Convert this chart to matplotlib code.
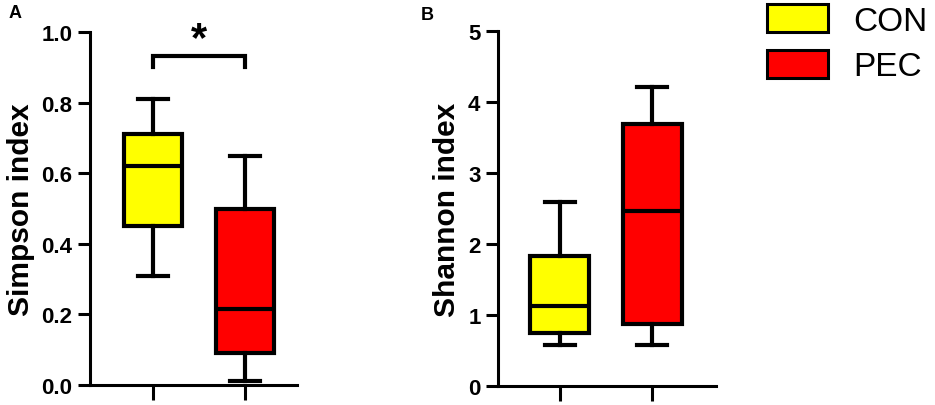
import matplotlib
matplotlib.use("Agg")
import matplotlib.pyplot as plt
from matplotlib.patches import Patch

plt.rcParams['font.family'] = ['Liberation Sans', 'DejaVu Sans']

groups = ['CON', 'PEC']
colors = ['#ffff00', '#ff0000']

# box stats: low whisker, Q1, median, Q3, high whisker
simpson_lo = [0.31, 0.01]
simpson_q1 = [0.45, 0.09]
simpson_med = [0.62, 0.215]
simpson_q3 = [0.71, 0.50]
simpson_hi = [0.81, 0.65]

shannon_lo = [0.58, 0.57]
shannon_q1 = [0.75, 0.87]
shannon_med = [1.13, 2.47]
shannon_q3 = [1.83, 3.69]
shannon_hi = [2.59, 4.22]

simpson_ticks = [0.0, 0.2, 0.4, 0.6, 0.8, 1.0]
shannon_ticks = [0, 1, 2, 3, 4, 5]


def make_stats(lo, q1, med, q3, hi):
    return [dict(whislo=lo[i], q1=q1[i], med=med[i], q3=q3[i], whishi=hi[i],
                 fliers=[], label=groups[i]) for i in range(len(groups))]


def draw_panel(ax, stats, ticks, fmt, ylabel, xlim):
    lw = 3.0
    b = ax.bxp(stats, positions=[1, 2], widths=0.64, patch_artist=True,
               showfliers=False,
               boxprops=dict(linewidth=lw, edgecolor='black'),
               whiskerprops=dict(linewidth=lw, color='black'),
               capprops=dict(linewidth=lw, color='black'),
               medianprops=dict(linewidth=lw, color='black'),
               capwidths=0.32)
    for patch, c in zip(b['boxes'], colors):
        patch.set_facecolor(c)
    ax.set_xlim(*xlim)
    ax.set_ylim(ticks[0], ticks[-1])
    ax.set_yticks(ticks)
    ax.set_yticklabels([fmt.format(t) for t in ticks], fontsize=16, fontweight='bold')
    ax.set_xticks([1, 2])
    ax.set_xticklabels(['', ''])
    ax.tick_params(axis='y', length=8.6, width=2.2, pad=4)
    ax.tick_params(axis='x', length=10.8, width=2.2)
    for s in ['top', 'right']:
        ax.spines[s].set_visible(False)
    for s in ['left', 'bottom']:
        ax.spines[s].set_linewidth(2.2)
    ax.set_ylabel(ylabel, fontsize=21.5, fontweight='bold', labelpad=5)


fig = plt.figure(figsize=(9.35, 4.06), dpi=100)
axA = fig.add_axes([90 / 935, 20 / 406, 207 / 935, 353 / 406])
axB = fig.add_axes([498 / 935, 19.3 / 406, 218 / 935, 354.4 / 406])

draw_panel(axA, make_stats(simpson_lo, simpson_q1, simpson_med, simpson_q3, simpson_hi),
           simpson_ticks, '{:.1f}', 'Simpson index', (0.315, 2.565))
draw_panel(axB, make_stats(shannon_lo, shannon_q1, shannon_med, shannon_q3, shannon_hi),
           shannon_ticks, '{:d}', 'Shannon index', (0.332, 2.69))

# significance bracket
axA.plot([1, 1, 2, 2], [0.90, 0.933, 0.933, 0.90], color='black', lw=3.0,
         clip_on=False, solid_joinstyle='miter')
axA.text(1.5, 0.98, '*', ha='center', va='center', fontsize=30, fontweight='bold',
         clip_on=False)

fig.text(9 / 935, 1 - 14 / 406, 'A', fontsize=13, fontweight='bold', va='center', ha='left')
fig.text(421 / 935, 1 - 16 / 406, 'B', fontsize=13, fontweight='bold', va='center', ha='left')

handles = [Patch(facecolor=c, edgecolor='black', linewidth=2.2) for c in colors]
fig.legend(handles, groups, loc='upper left', bbox_to_anchor=(754 / 935, 1.02),
           frameon=False, fontsize=24, handlelength=1.83, handleheight=0.9,
           handletextpad=0.75, labelspacing=0.4, borderaxespad=0)

fig.savefig('out.png', dpi=100)
